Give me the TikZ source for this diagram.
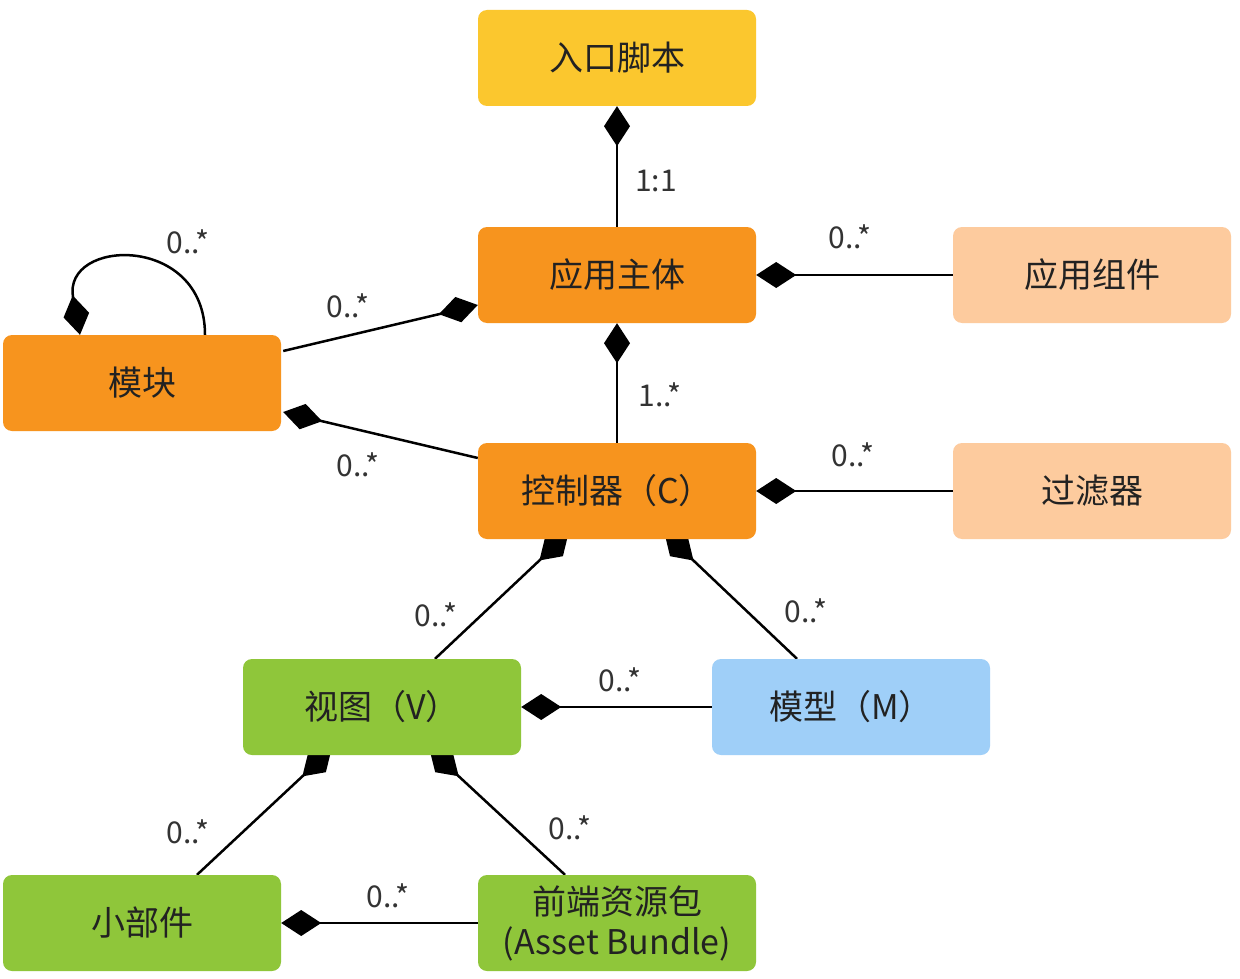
\documentclass[tikz,border=0pt]{standalone}
\usepackage{fontspec}
\setmainfont{Noto Sans CJK SC}
\usetikzlibrary{arrows.meta,calc,backgrounds}
\definecolor{cyellow}{HTML}{FBC72E}
\definecolor{corange}{HTML}{F7941E}
\definecolor{cpeach}{HTML}{FDCB9E}
\definecolor{cgreen}{HTML}{8FC63A}
\definecolor{cblue}{HTML}{9FCFF8}
\definecolor{ctext}{HTML}{222222}
\definecolor{clabel}{HTML}{333333}
\tikzset{
  box/.style={rectangle, rounded corners=9pt, minimum width=278pt, minimum height=96pt,
    inner sep=0pt, font=\fontsize{34}{38}\selectfont, text=ctext, align=center},
  comp/.style={line width=2.5pt, draw=black, -{Diamond[length=40pt,width=26pt]}},
  mult/.style={font=\fontsize{30}{34}\selectfont, text=clabel, inner sep=0pt}
}
\begin{document}
\begin{tikzpicture}[x=1pt,y=-1pt]
\useasboundingbox (0,0) rectangle (1240,979);
% nodes
\node[box, fill=cyellow] (entry) at (617,58) {入口脚本};
\node[box, fill=corange] (app) at (617,275) {应用主体};
\node[box, fill=cpeach] (appcomp) at (1092,275) {应用组件};
\node[box, fill=corange] (mod) at (142,383) {模块};
\node[box, fill=corange] (ctrl) at (617,491) {控制器（C）};
\node[box, fill=cpeach] (filter) at (1092,491) {过滤器};
\node[box, fill=cgreen] (view) at (382,707) {视图（V）};
\node[box, fill=cblue] (model) at (851,707) {模型（M）};
\node[box, fill=cgreen] (widget) at (142,923) {小部件};
\node[box, fill=cgreen] (asset) at (617,923) {前端资源包\\[2pt](Asset Bundle)};
% connectors
\begin{scope}[on background layer]
\fill[white] (0,0) rectangle (1240,979);
\draw[comp] (app.north) -- (entry.south);
\draw[comp] (appcomp.west) -- (app.east);
\draw[comp] ($(mod.east)+(2,-32)$) -- ($(app.west)+(0,30)$);
\draw[comp] ($(mod.north)+(63,0)$) .. controls (205,233) and (62,238) .. ($(mod.north)+(-62,0)$);
\draw[comp] (ctrl.north) -- (app.south);
\draw[comp] ($(ctrl.west)+(0,-33)$) -- ($(mod.east)+(2,29)$);
\draw[comp] (filter.west) -- (ctrl.east);
\draw[comp, shorten >=-9pt] ($(view.north)+(53,0)$) -- ($(ctrl.south)+(-55,0)$);
\draw[comp, shorten >=-9pt] ($(model.north)+(-54,0)$) -- ($(ctrl.south)+(54,0)$);
\draw[comp] (model.west) -- (view.east);
\draw[comp, shorten >=-9pt] ($(widget.north)+(55,0)$) -- ($(view.south)+(-57,0)$);
\draw[comp, shorten >=-9pt] ($(asset.north)+(-52,0)$) -- ($(view.south)+(54,0)$);
\draw[comp] (asset.west) -- (widget.east);
\end{scope}
% multiplicities
\node[mult] (m1) at (656,181) {1:1};
\node[mult] (m2) at (850,237) {0..*};
\node[mult] (m3) at (348,306) {0..*};
\node[mult] (m4) at (188,242) {0..*};
\node[mult] (m5) at (660,395) {1..*};
\node[mult] (m6) at (358,465) {0..*};
\node[mult] (m7) at (853,455) {0..*};
\node[mult] (m8) at (436,615) {0..*};
\node[mult] (m9) at (806,611) {0..*};
\node[mult] (m10) at (620,680) {0..*};
\node[mult] (m11) at (188,832) {0..*};
\node[mult] (m12) at (570,828) {0..*};
\node[mult] (m13) at (388,896) {0..*};
\end{tikzpicture}
\end{document}
